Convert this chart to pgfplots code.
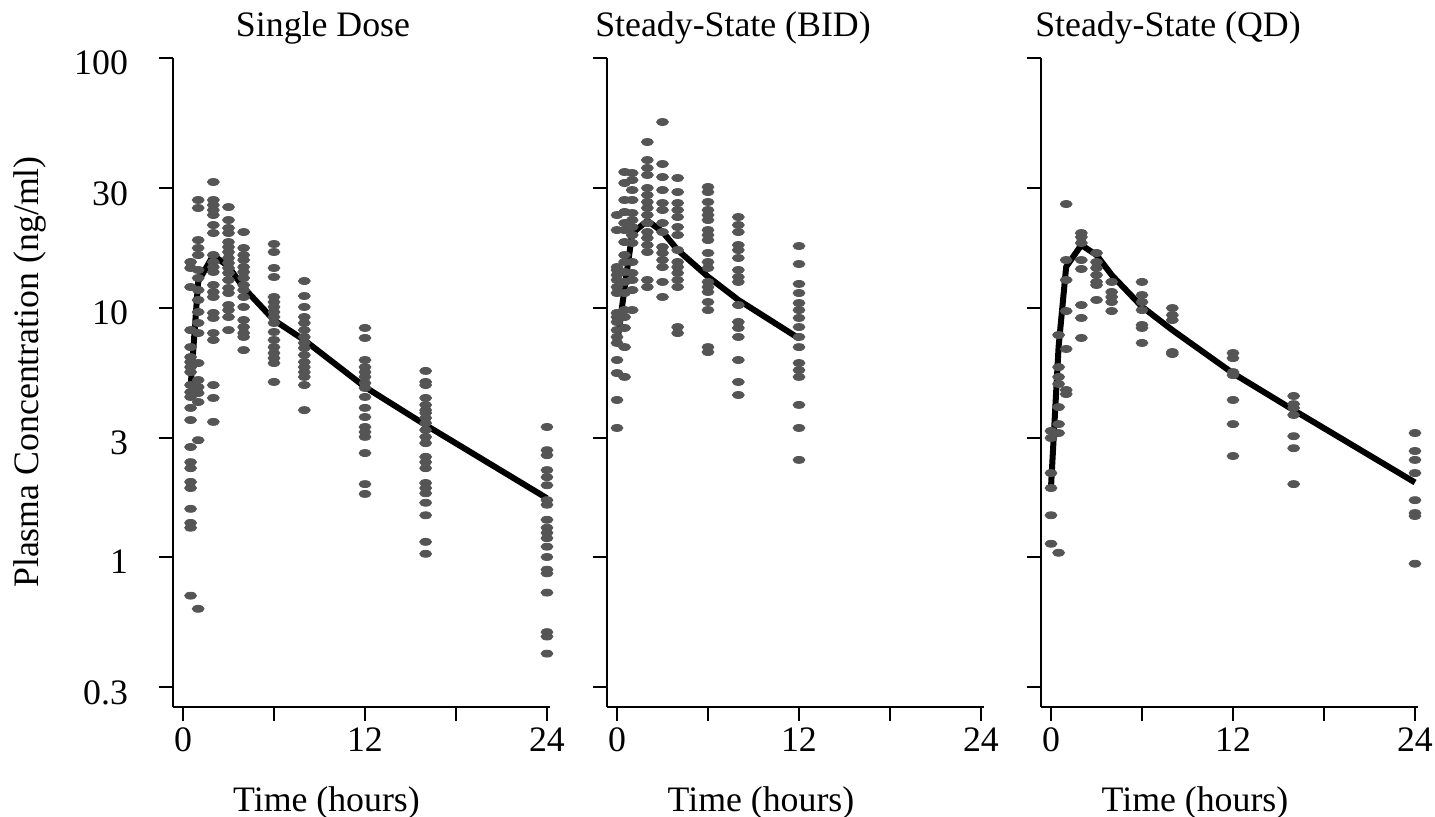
\documentclass[border=0pt]{standalone}
\usepackage{fontspec}
\setmainfont{Liberation Serif}
\usepackage{pgfplots}
\pgfplotsset{compat=1.18}
\definecolor{ptgray}{RGB}{85,85,85}
\begin{document}
\begin{tikzpicture}[font=\fontsize{17.9}{21}\selectfont]
\useasboundingbox (0,0) rectangle (717.5pt,408pt);
% ---------------- Single Dose
\begin{axis}[at={(86.5pt,54.5pt)}, anchor=south west,
  scale only axis, width=188.5pt, height=324.5pt,
  xmin=-0.66, xmax=24.2, ymode=log, ymin=0.2505, ymax=100,
  axis x line*=bottom, axis y line*=left,
  axis line style={line width=1pt},
  xtick={0,6,12,18,24}, xticklabels={0,,12,,24},
  ytick={0.3,1,3,10,30,100}, yticklabels={0.3,1,3,10,30,100},
  yticklabel style={xshift=-12pt, yshift=-2.5pt},
  minor tick num=0,
  tick align=outside, major tick length=7pt,
  tick style={black, line width=1pt},
  clip=false]
\addplot[only marks, mark=*, mark size=1.75pt, mark options={xscale=1.7, fill=ptgray, draw=ptgray}] table {
x y
0.5 15.22
0.5 14.40
0.5 12.08
0.5 8.12
0.5 6.94
0.5 6.33
0.5 6.05
0.5 5.77
0.5 5.51
0.5 4.89
0.5 4.58
0.5 4.38
0.5 3.96
0.5 3.54
0.5 2.76
0.5 2.40
0.5 2.27
0.5 2.00
0.5 1.89
0.5 1.56
0.5 1.37
0.5 1.31
0.5 0.70
1 26.97
1 25.05
1 18.64
1 17.32
1 16.23
1 14.14
1 13.13
1 11.75
1 10.72
1 9.59
1 8.67
1 7.90
1 5.99
1 5.12
1 4.80
1 4.54
1 4.18
1 2.94
1 0.62
2 31.84
2 26.97
2 25.75
2 24.59
2 23.48
2 21.41
2 19.89
2 16.23
2 15.22
2 14.53
2 13.88
2 12.31
2 11.54
2 11.02
2 9.51
2 9.08
2 7.90
2 7.41
2 4.89
2 4.34
2 3.48
3 25.27
3 22.42
3 20.83
3 19.89
3 18.30
3 17.48
3 16.69
3 15.79
3 15.08
3 14.40
3 13.75
3 12.89
3 11.97
3 11.43
3 10.23
3 9.77
3 9.16
3 8.12
4 20.07
4 17.32
4 16.23
4 15.50
4 14.53
4 13.88
4 13.13
4 12.31
4 11.75
4 11.02
4 10.05
4 8.91
4 8.35
4 7.90
4 7.62
4 6.75
6 17.97
6 16.69
6 14.40
6 13.25
6 11.02
6 10.52
6 10.05
6 9.59
6 9.16
6 8.67
6 7.98
6 7.41
6 6.94
6 6.57
6 6.27
6 5.99
6 5.03
8 12.77
8 11.12
8 10.05
8 9.16
8 8.67
8 8.12
8 7.62
8 7.21
8 6.88
8 6.45
8 6.05
8 5.77
8 5.51
8 5.27
8 4.89
8 3.88
12 8.28
12 7.55
12 6.16
12 5.77
12 5.51
12 5.27
12 4.98
12 4.76
12 4.38
12 3.96
12 3.64
12 3.32
12 3.17
12 3.03
12 2.61
12 1.96
12 1.79
16 5.57
16 5.03
16 4.89
16 4.34
16 4.07
16 3.88
16 3.78
16 3.61
16 3.44
16 3.23
16 3.03
16 2.86
16 2.52
16 2.40
16 2.27
16 1.98
16 1.89
16 1.80
16 1.65
16 1.47
16 1.15
16 1.03
24 3.32
24 2.68
24 2.56
24 2.23
24 2.09
24 1.94
24 1.69
24 1.62
24 1.41
24 1.31
24 1.25
24 1.19
24 1.10
24 1.00
24 0.89
24 0.86
24 0.72
24 0.50
24 0.48
24 0.41
};
\addplot[black, line width=3pt, line join=round, mark=none] table {
x y
0.5 4.8
1 12.7
2 16.2
3 14.6
4 12.0
6 8.9
8 7.4
12 4.8
16 3.38
24 1.72
};
\end{axis}
% ---------------- Steady-State (BID)
\begin{axis}[at={(303.5pt,54.5pt)}, anchor=south west,
  scale only axis, width=188.5pt, height=324.5pt,
  xmin=-0.66, xmax=24.2, ymode=log, ymin=0.2505, ymax=100,
  axis x line*=bottom, axis y line*=left,
  axis line style={line width=1pt},
  xtick={0,6,12,18,24}, xticklabels={0,,12,,24},
  ytick={0.3,1,3,10,30,100}, yticklabels={,,,,,},
  minor tick num=0,
  tick align=outside, major tick length=7pt,
  tick style={black, line width=1pt},
  clip=false]
\addplot[only marks, mark=*, mark size=1.75pt, mark options={xscale=1.7, fill=ptgray, draw=ptgray}] table {
x y
0 23.48
0 20.44
0 14.53
0 14.14
0 13.50
0 12.89
0 12.08
0 11.43
0 9.51
0 9.16
0 8.75
0 8.12
0 7.62
0 7.21
0 6.16
0 5.46
0 4.26
0 3.29
0.5 34.92
0.5 31.55
0.5 26.97
0.5 24.14
0.5 21.81
0.5 20.44
0.5 18.30
0.5 16.23
0.5 15.22
0.5 13.88
0.5 12.66
0.5 11.43
0.5 9.77
0.5 9.16
0.5 8.28
0.5 6.94
0.5 5.27
1 34.60
1 32.43
1 29.57
1 26.97
1 23.92
1 22.42
1 21.02
1 19.53
1 18.14
1 15.22
1 13.75
1 12.89
1 11.75
1 9.77
2 46.06
2 39.01
2 36.24
2 33.97
2 30.13
2 28.24
2 26.48
2 25.05
2 23.48
2 21.81
2 20.07
2 18.99
2 17.80
2 16.69
2 12.89
2 12.08
3 55.4
3 37.60
3 33.34
3 29.57
3 26.23
3 24.59
3 21.81
3 20.07
3 17.48
3 16.54
3 15.50
3 14.53
3 12.66
3 11.02
4 33.04
4 29.03
4 26.23
4 24.59
4 23.05
4 21.02
4 19.53
4 17.00
4 15.22
4 14.53
4 13.75
4 12.89
4 12.08
4 8.35
4 7.90
6 30.41
6 29.03
6 26.48
6 24.59
6 23.48
6 22.42
6 20.44
6 19.53
6 18.64
6 16.54
6 15.22
6 14.40
6 12.66
6 12.08
6 11.54
6 10.52
6 9.77
6 6.94
6 6.63
8 23.05
8 21.41
8 20.07
8 17.80
8 17.00
8 15.79
8 14.14
8 13.25
8 12.66
8 10.23
8 8.75
8 8.28
8 7.62
8 6.16
8 5.03
8 4.46
12 17.64
12 14.94
12 12.43
12 11.43
12 10.42
12 9.77
12 9.08
12 8.35
12 7.62
12 6.94
12 5.99
12 5.61
12 5.27
12 4.07
12 3.29
12 2.45
};
\addplot[black, line width=3pt, line join=round, mark=none] table {
x y
0 7.19
1 19.84
2 22.28
3 20.13
4 17.0
6 13.29
8 10.72
12 7.52
};
\end{axis}
% ---------------- Steady-State (QD)
\begin{axis}[at={(520.5pt,54.5pt)}, anchor=south west,
  scale only axis, width=188.5pt, height=324.5pt,
  xmin=-0.66, xmax=24.2, ymode=log, ymin=0.2505, ymax=100,
  axis x line*=bottom, axis y line*=left,
  axis line style={line width=1pt},
  xtick={0,6,12,18,24}, xticklabels={0,,12,,24},
  ytick={0.3,1,3,10,30,100}, yticklabels={,,,,,},
  minor tick num=0,
  tick align=outside, major tick length=7pt,
  tick style={black, line width=1pt},
  clip=false]
\addplot[only marks, mark=*, mark size=1.75pt, mark options={xscale=1.7, fill=ptgray, draw=ptgray}] table {
x y
0 3.20
0 3.00
0 2.17
0 1.89
0 1.47
0 1.13
0.5 7.76
0.5 5.77
0.5 5.27
0.5 4.94
0.5 3.99
0.5 3.41
0.5 3.14
0.5 1.04
1 25.99
1 15.50
1 12.89
1 9.68
1 6.82
1 4.67
1 4.50
2 19.89
2 19.17
2 18.14
2 15.50
2 14.27
2 10.23
2 9.08
2 7.55
3 16.54
3 15.22
3 14.40
3 13.50
3 12.66
3 12.31
3 10.72
4 12.66
4 11.54
4 11.02
4 10.52
4 9.68
6 12.66
6 11.22
6 10.52
6 9.77
6 8.51
6 8.28
6 7.21
8 9.95
8 9.33
8 8.91
8 6.63
8 6.51
12 6.57
12 6.27
12 5.51
12 5.36
12 4.26
12 3.41
12 2.54
16 4.42
16 4.10
16 3.96
16 3.71
16 3.05
16 2.73
16 1.96
24 3.14
24 2.66
24 2.45
24 2.17
24 1.69
24 1.50
24 1.46
24 0.94
};
\addplot[black, line width=3pt, line join=round, mark=none] table {
x y
0 1.91
0.5 6.96
1 14.57
2 17.80
3 16.23
4 13.50
6 10.07
8 8.12
12 5.45
16 3.88
24 1.99
};
\end{axis}
% ---------------- titles and labels (pixel coordinates)
\begin{scope}[x=0.5pt, y=-0.5pt, yshift=408pt]
\node[anchor=base] at (323,37) {Single Dose};
\node[anchor=base] at (733,37) {Steady-State (BID)};
\node[anchor=base] at (1168,37) {Steady-State (QD)};
\node[anchor=base] at (326.5,811) {Time (hours)};
\node[anchor=base] at (761,811) {Time (hours)};
\node[anchor=base] at (1195,811) {Time (hours)};
\node[rotate=90, anchor=base] at (38,372) {Plasma Concentration (ng/ml)};
\end{scope}
\end{tikzpicture}
\end{document}
